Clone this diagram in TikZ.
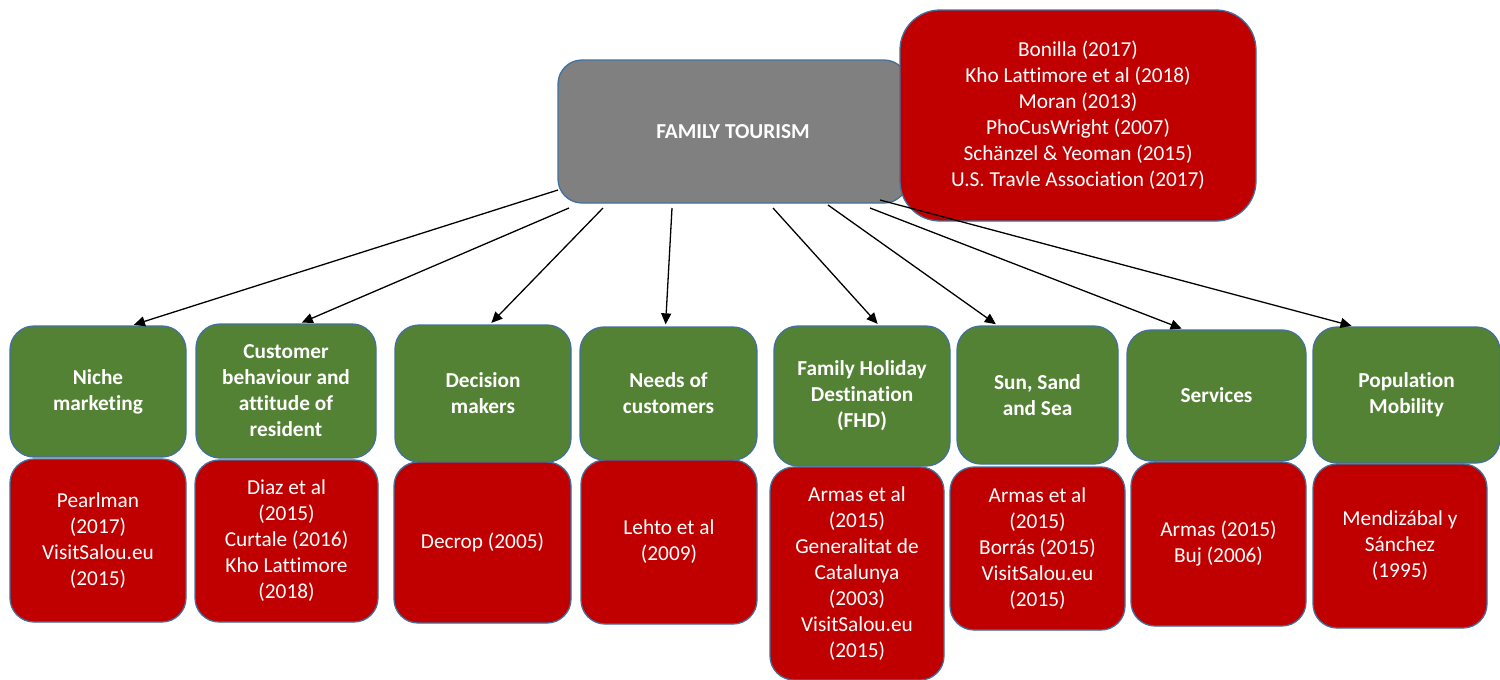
\documentclass[tikz,border=0pt]{standalone}
\usepackage{fontspec}
\setmainfont{Carlito}[Ligatures=NoCommon,Contextuals=NoAlternate]
\usetikzlibrary{arrows.meta}
\definecolor{boxgreen}{HTML}{548235}
\definecolor{boxred}{HTML}{C00000}
\definecolor{boxgray}{HTML}{808080}
\definecolor{boxline}{HTML}{41719C}
\begin{document}
\begin{tikzpicture}[x=1pt,y=-1pt,line join=round,>={Triangle[length=11pt,width=10pt]},
	font=\fontsize{21.3}{26}\selectfont,
	box/.style={draw=boxline,line width=1.3pt,rounded corners=24pt,text=white,align=center,inner sep=2pt},
	topic/.style={box,fill=boxgreen,font=\fontsize{21.3}{26}\selectfont\bfseries},
	refs/.style={box,fill=boxred}]
	\useasboundingbox (0,0) rectangle (1500,680);
	% main node and its sources
	\node[box,fill=boxgray,font=\fontsize{21.3}{26}\selectfont\bfseries,minimum width=350pt,minimum height=143pt] (ft) at (733,131.5) {FAMILY TOURISM};
	\node[refs,rounded corners=40pt,minimum width=356pt,minimum height=211pt] (ftr) at (1078,115.5) {Bonilla (2017)\\Kho Lattimore et al (2018)\\Moran (2013)\\PhoCusWright (2007)\\Schänzel \& Yeoman (2015)\\U.S. Travle Association (2017)};
	% topics
	\node[topic,minimum width=176pt,minimum height=131pt] (g1) at (98,391.5) {Niche\\marketing};
	\node[topic,minimum width=180pt,minimum height=134pt] (g2) at (286,391) {Customer\\behaviour and\\attitude of\\resident};
	\node[topic,minimum width=176pt,minimum height=137pt] (g3) at (483,393.5) {Decision\\makers};
	\node[topic,minimum width=177pt,minimum height=133pt] (g4) at (668.5,393.5) {Needs of\\customers};
	\node[topic,minimum width=176pt,minimum height=140pt] (g5) at (862,396) {Family Holiday\\Destination\\(FHD)};
	\node[topic,minimum width=161pt,minimum height=138pt] (g6) at (1037.5,395) {Sun, Sand\\and Sea};
	\node[topic,minimum width=179pt,minimum height=131pt] (g7) at (1216.5,395.5) {Services};
	\node[topic,minimum width=187pt,minimum height=136pt] (g8) at (1406.5,395) {Population\\Mobility};
	% sources per topic
	\node[refs,minimum width=176pt,minimum height=163pt] (r1) at (98,540.5) {Pearlman\\(2017)\\VisitSalou.eu\\(2015)};
	\node[refs,minimum width=183pt,minimum height=162pt] (r2) at (286.5,541) {Diaz et al\\(2015)\\Curtale (2016)\\Kho Lattimore\\(2018)};
	\node[refs,minimum width=177pt,minimum height=161pt] (r3) at (482.5,542.5) {Decrop (2005)};
	\node[refs,minimum width=176pt,minimum height=164pt] (r4) at (669,542) {Lehto et al\\(2009)};
	\node[refs,minimum width=174pt,minimum height=213pt] (r5) at (857,573.5) {Armas et al\\(2015)\\Generalitat de\\Catalunya\\(2003)\\VisitSalou.eu\\(2015)};
	\node[refs,minimum width=175pt,minimum height=163pt] (r6) at (1037.5,548.5) {Armas et al\\(2015)\\Borrás (2015)\\VisitSalou.eu\\(2015)};
	\node[refs,minimum width=175pt,minimum height=164pt] (r7) at (1218.5,544) {Armas (2015)\\Buj (2006)};
	\node[refs,minimum width=174pt,minimum height=164pt] (r8) at (1400,546) {Mendizábal y\\Sánchez\\(1995)};
	% arrows
	\foreach \i/\sx/\sy in {1/558/190,2/569/208,3/603/208,4/672/208,5/773/208,6/828/205,7/870/208,8/880/200}
	\coordinate (s\i) at (\sx,\sy);
	\foreach \i/\dx in {1/34,2/14,3/7,4/-3,5/17,6/-40,7/-33,8/-53}
	\draw[->,line width=1.3pt,shorten >=2pt] (s\i) -- ([xshift=\dx pt]g\i.north);
\end{tikzpicture}
\end{document}
